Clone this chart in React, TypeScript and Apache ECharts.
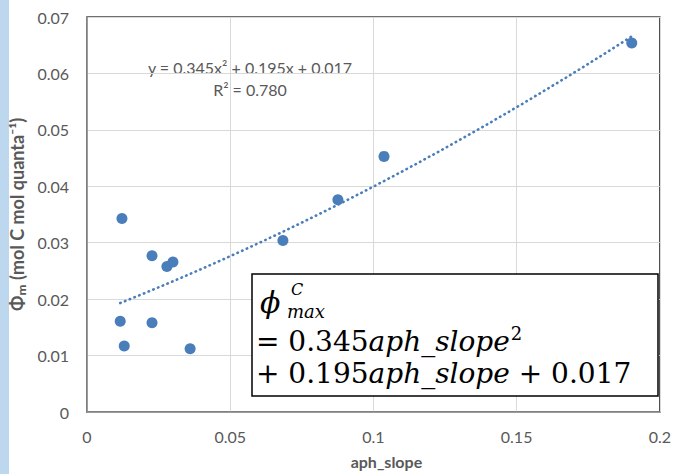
import React, { useEffect, useRef } from "react";
import * as echarts from "echarts";

const aphSlope = [0.1902, 0.1037, 0.0876, 0.0684, 0.0122, 0.0227, 0.0279, 0.03, 0.0116, 0.0227, 0.013, 0.036];
const phiMax = [0.0654, 0.0453, 0.0376, 0.0304, 0.0343, 0.0277, 0.0258, 0.0266, 0.0161, 0.0158, 0.0117, 0.0112];
const fitCoefficients = [0.345, 0.195, 0.017];
const equationText = "y = 0.345x\u00B2 + 0.195x + 0.017";
const r2Text = "R\u00B2 = 0.780";
const xAxisName = "aph_slope";
const yAxisName = "\u03A6\u2098 (mol C mol quanta\u207B\u00B9)";

export default function App() {
  const ref = useRef<HTMLDivElement>(null);
  useEffect(() => {
    if (!ref.current) return;
    const chart = echarts.init(ref.current, undefined, { renderer: "svg" });
    const xmin = Math.min(...aphSlope);
    const xmax = Math.max(...aphSlope);
    const trend: number[][] = [];
    const n = 60;
    for (let i = 0; i <= n; i++) {
      const x = xmin + ((xmax - xmin) * i) / n;
      trend.push([x, fitCoefficients[0] * x * x + fitCoefficients[1] * x + fitCoefficients[2]]);
    }
    const blue = "#4a7ebb";
    const font = "Lato, 'Open Sans', sans-serif";
    const mathFont = "'DejaVu Serif', 'Liberation Serif', serif";
    chart.setOption({
      animation: false,
      backgroundColor: "#ffffff",
      grid: {
        left: 87,
        right: 14,
        top: 17,
        bottom: 61,
        show: true,
        borderColor: "#404040",
        borderWidth: 1.5,
      },
      xAxis: {
        type: "value",
        min: 0,
        max: 0.2,
        interval: 0.05,
        name: xAxisName,
        nameLocation: "middle",
        nameGap: 41,
        nameTextStyle: { color: "#595959", fontWeight: "bold", fontSize: 16, fontFamily: font, padding: [0, 0, 0, 26] },
        axisLine: { show: true, lineStyle: { color: "#868686", width: 1.5 } },
        axisTick: { show: false },
        axisLabel: { color: "#595959", fontSize: 16, margin: 16, fontFamily: font },
        splitLine: { show: true, lineStyle: { color: "#d9d9d9", width: 1 } },
      },
      yAxis: {
        type: "value",
        min: 0,
        max: 0.07,
        interval: 0.01,
        name: yAxisName,
        nameLocation: "middle",
        nameGap: 60,
        nameTextStyle: { color: "#595959", fontWeight: "bold", fontSize: 18, fontFamily: font },
        axisLine: { show: true, lineStyle: { color: "#868686", width: 1.5 } },
        axisTick: { show: false },
        axisLabel: { color: "#595959", fontSize: 16, margin: 18, fontFamily: font },
        splitLine: { show: true, lineStyle: { color: "#d9d9d9", width: 1 } },
      },
      series: [
        {
          type: "line",
          data: trend,
          showSymbol: false,
          smooth: false,
          lineStyle: { color: blue, width: 2.6, type: [0.5, 4.6], cap: "round" },
          z: 2,
        },
        {
          type: "scatter",
          data: aphSlope.map((x, i) => [x, phiMax[i]]),
          symbolSize: 11,
          itemStyle: { color: blue, opacity: 1 },
          z: 3,
        },
      ],
      graphic: [
        { type: "rect", left: 0, top: 0, shape: { width: 9, height: 474 }, style: { fill: "#bdd7ee" } },
        {
          type: "text",
          x: 250,
          y: 67,
          style: { text: equationText, fill: "#595959", font: `16px ${font}`, align: "center", verticalAlign: "middle" },
        },
        {
          type: "text",
          x: 250,
          y: 89,
          style: { text: r2Text, fill: "#595959", font: `16px ${font}`, align: "center", verticalAlign: "middle" },
        },
        {
          type: "rect",
          shape: { x: 252, y: 274, width: 406, height: 122 },
          style: { fill: "#ffffff", stroke: "#000000", lineWidth: 1.5 },
          z: 10,
        },
        {
          type: "text",
          x: 260,
          y: 302,
          z: 11,
          style: { text: "\u03D5", fill: "#000", font: `italic 30px ${mathFont}`, verticalAlign: "middle" },
        },
        {
          type: "text",
          x: 291,
          y: 289,
          z: 11,
          style: { text: "C", fill: "#000", font: `italic 16px ${mathFont}`, verticalAlign: "middle" },
        },
        {
          type: "text",
          x: 287,
          y: 311,
          z: 11,
          style: { text: "max", fill: "#000", font: `italic 18px ${mathFont}`, verticalAlign: "middle" },
        },
        {
          type: "text",
          x: 256,
          y: 341,
          z: 11,
          style: {
            text: "= 0.345{i|aph_slope}{s|2}",
            fill: "#000",
            font: `28px ${mathFont}`,
            verticalAlign: "middle",
            rich: {
              i: { font: `italic 28px ${mathFont}`, fill: "#000" },
              s: { font: `18px ${mathFont}`, fill: "#000", padding: [0, 0, 16, 1] },
            },
          },
        },
        {
          type: "text",
          x: 256,
          y: 373,
          z: 11,
          style: {
            text: "+ 0.195{i|aph_slope} + 0.017",
            fill: "#000",
            font: `28px ${mathFont}`,
            verticalAlign: "middle",
            rich: {
              i: { font: `italic 28px ${mathFont}`, fill: "#000" },
            },
          },
        },
      ],
    });
    return () => chart.dispose();
  }, []);
  return (
    <div
      ref={ref}
      style={{ position: "fixed", left: 0, top: 0, width: 674, height: 474 }}
    />
  );
}
